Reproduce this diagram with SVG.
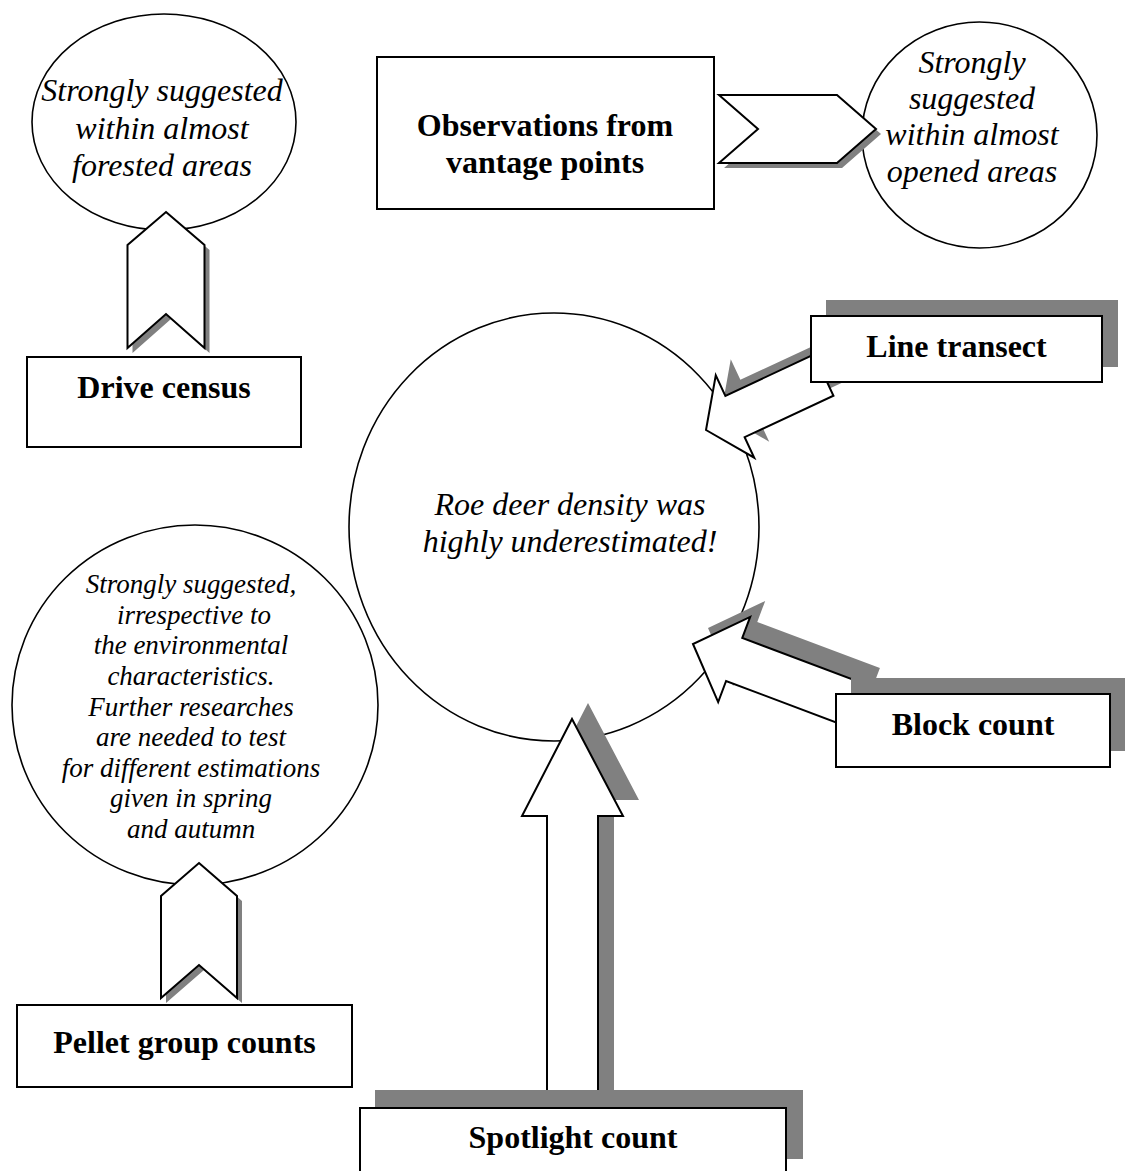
<svg xmlns="http://www.w3.org/2000/svg" xmlns:xlink="http://www.w3.org/1999/xlink" width="1125" height="1171" viewBox="0 0 1125 1171">
  <style>
    .bg { fill: #ffffff; }
    .oval { fill: #ffffff; stroke: #000000; stroke-width: 1.6; }
    .box { fill: #ffffff; stroke: #000000; stroke-width: 2; }
    .shadow { fill: #808080; stroke: none; }
    .shape { fill: #ffffff; stroke: #000000; stroke-width: 2; stroke-linejoin: miter; }
    .label { font-family: "Liberation Serif", "Times New Roman", serif; font-size: 32px; font-weight: bold; fill: #000000; text-anchor: middle; }
    .note { font-family: "Liberation Serif", "Times New Roman", serif; font-size: 32px; font-style: italic; fill: #000000; text-anchor: middle; }
    .note-small { font-family: "Liberation Serif", "Times New Roman", serif; font-size: 27px; font-style: italic; fill: #000000; text-anchor: middle; }
  </style>
  <defs>
    <!-- chevrons pointing up / right -->
    <polygon id="chev-drive" points="166,212 204.5,245 204.5,348 166,314 127.5,348 127.5,245"/>
    <polygon id="chev-pellet" points="199,863 237,896 237,998 199,965 161,998 161,896"/>
    <polygon id="chev-obs" points="719,95 837,95 876,129 837,163 719,163 758,129"/>
    <!-- block arrows, drawn with tip at origin pointing along +x -->
    <polygon id="arrow-line" points="0,0 -32,-45.5 -32,-22.8 -130,-22.8 -130,22.8 -32,22.8 -32,45.5"/>
    <polygon id="arrow-block" points="0,0 -44,-45.5 -44,-23 -175,-23 -175,23 -44,23 -44,45.5"/>
    <polygon id="arrow-spot" points="572,719 623,816 598,816 598,1108 547,1108 547,816 522,816"/>
  </defs>

  <rect class="bg" x="0" y="0" width="1125" height="1171"/>

  <!-- outcome ovals -->
  <g id="forested-note">
    <ellipse class="oval" cx="164" cy="122" rx="132" ry="108"/>
    <text class="note" x="162" y="101">Strongly suggested</text>
    <text class="note" x="162" y="139">within almost</text>
    <text class="note" x="162" y="176">forested areas</text>
  </g>
  <g id="opened-note">
    <ellipse class="oval" cx="979.5" cy="135" rx="117.5" ry="113"/>
    <text class="note" x="972" y="73">Strongly</text>
    <text class="note" x="972" y="109">suggested</text>
    <text class="note" x="972" y="145">within almost</text>
    <text class="note" x="972" y="182">opened areas</text>
  </g>
  <g id="density-note">
    <ellipse class="oval" cx="554" cy="527" rx="205" ry="214"/>
    <text class="note" x="570" y="515">Roe deer density was</text>
    <text class="note" x="570" y="552">highly underestimated!</text>
  </g>
  <g id="pellet-note">
    <ellipse class="oval" cx="195" cy="705" rx="183" ry="180"/>
    <text class="note-small" x="191" y="593">Strongly suggested,</text>
    <text class="note-small" x="194" y="623.5">irrespective to</text>
    <text class="note-small" x="191" y="654">the environmental</text>
    <text class="note-small" x="191" y="685">characteristics.</text>
    <text class="note-small" x="191" y="715.5">Further researches</text>
    <text class="note-small" x="191" y="746">are needed to test</text>
    <text class="note-small" x="191" y="776.5">for different estimations</text>
    <text class="note-small" x="191" y="807">given in spring</text>
    <text class="note-small" x="191" y="838">and autumn</text>
  </g>

  <!-- connectors: chevrons and block arrows with drop shadows -->
  <g id="connectors">
    <use class="shadow" xlink:href="#chev-drive" transform="translate(5,5)"/>
    <use class="shape" xlink:href="#chev-drive"/>
    <use class="shadow" xlink:href="#chev-pellet" transform="translate(5,5)"/>
    <use class="shape" xlink:href="#chev-pellet"/>
    <use class="shadow" xlink:href="#chev-obs" transform="translate(5,5)"/>
    <use class="shape" xlink:href="#chev-obs"/>

    <use class="shadow" xlink:href="#arrow-line" transform="translate(721,414) rotate(155)"/>
    <use class="shape" xlink:href="#arrow-line" transform="translate(706,430) rotate(155)"/>
    <use class="shadow" xlink:href="#arrow-block" transform="translate(708,628) rotate(200.6)"/>
    <use class="shape" xlink:href="#arrow-block" transform="translate(693,644) rotate(200.6)"/>
    <use class="shadow" xlink:href="#arrow-spot" transform="translate(16,-16)"/>
    <use class="shape" xlink:href="#arrow-spot"/>
  </g>

  <!-- method boxes -->
  <g id="drive-census">
    <rect class="box" x="27" y="357" width="274" height="90"/>
    <text class="label" x="164" y="398">Drive census</text>
  </g>
  <g id="vantage-points">
    <rect class="box" x="377" y="57" width="337" height="152"/>
    <text class="label" x="545" y="136">Observations from</text>
    <text class="label" x="545" y="173">vantage points</text>
  </g>
  <g id="line-transect">
    <rect class="shadow" x="826" y="300" width="292" height="67"/>
    <rect class="box" x="811" y="316" width="291" height="66"/>
    <text class="label" x="956.5" y="357">Line transect</text>
  </g>
  <g id="block-count">
    <rect class="shadow" x="851" y="678" width="280" height="73"/>
    <rect class="box" x="836" y="694" width="274" height="73"/>
    <text class="label" x="973" y="735">Block count</text>
  </g>
  <g id="pellet-group-counts">
    <rect class="box" x="17" y="1005" width="335" height="82"/>
    <text class="label" x="184.5" y="1053">Pellet group counts</text>
  </g>
  <g id="spotlight-count">
    <rect class="shadow" x="375" y="1090" width="428" height="69"/>
    <rect class="box" x="360" y="1108" width="426" height="80"/>
    <text class="label" x="573" y="1148">Spotlight count</text>
  </g>
</svg>
